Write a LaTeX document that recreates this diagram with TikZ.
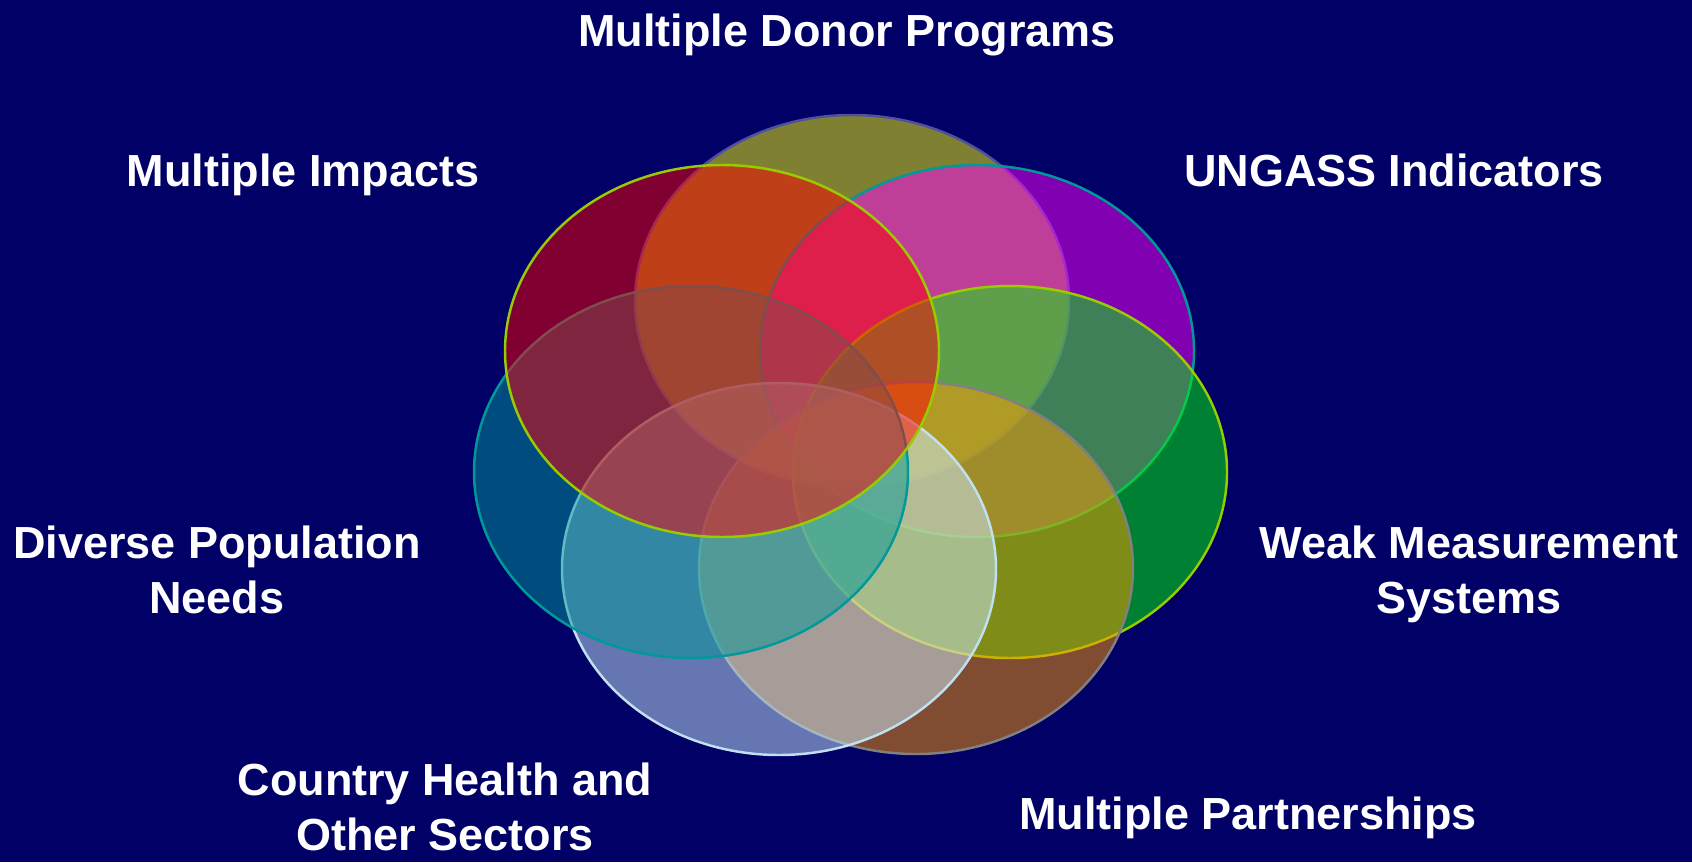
\documentclass[tikz,border=0pt]{standalone}
\usepackage{fontspec}
\setmainfont{Liberation Sans}
\definecolor{navy}{HTML}{000066}
\definecolor{donorfill}{HTML}{FFFF00}
\definecolor{impactfill}{HTML}{FF0000}
\definecolor{ungassfill}{HTML}{FF00FF}
\definecolor{popfill}{HTML}{009999}
\definecolor{weakfill}{HTML}{00FF00}
\definecolor{countryfill}{HTML}{CCECFF}
\definecolor{partnerfill}{HTML}{FF9900}
\definecolor{limeline}{HTML}{99CC00}
\definecolor{tealline}{HTML}{009999}
\definecolor{violetline}{HTML}{5050A0}
\definecolor{greyline}{HTML}{808080}
\definecolor{paleline}{HTML}{C0E0F0}
\tikzset{
  petal/.style={line width=0.7pt, fill opacity=0.5},
  tag/.style={text=white, font=\fontsize{12.8}{15.4}\selectfont\bfseries,
    align=center, inner sep=0pt, anchor=base}
}

\begin{document}
\begin{tikzpicture}
\fill[navy] (0,0) rectangle (16.92,8.62);
\useasboundingbox (0,0) rectangle (16.92,8.62);
% centres of the seven ellipses
\coordinate (donor) at (8.52,5.61);
\coordinate (impact) at (7.22,5.11);
\coordinate (ungass) at (9.77,5.11);
\coordinate (pop) at (6.91,3.90);
\coordinate (weak) at (10.10,3.90);
\coordinate (country) at (7.79,2.93);
\coordinate (partner) at (9.16,2.94);
\draw[petal, draw=violetline, fill=donorfill] (donor) ellipse [x radius=2.17, y radius=1.86];
\draw[petal, draw=tealline, fill=ungassfill] (ungass) ellipse [x radius=2.17, y radius=1.86];
\draw[petal, draw=limeline, fill=weakfill] (weak) ellipse [x radius=2.17, y radius=1.86];
\draw[petal, draw=greyline, fill=partnerfill] (partner) ellipse [x radius=2.17, y radius=1.86];
\draw[petal, draw=paleline, fill=countryfill] (country) ellipse [x radius=2.17, y radius=1.86];
\draw[petal, draw=tealline, fill=popfill] (pop) ellipse [x radius=2.17, y radius=1.86];
\draw[petal, draw=limeline, fill=impactfill] (impact) ellipse [x radius=2.17, y radius=1.86];
% labels
\node[tag] (tDonor) at (8.47,8.16) {Multiple Donor Programs};
\node[tag] (tImpact) at (3.03,6.76) {Multiple Impacts};
\node[tag] (tUngass) at (13.94,6.76) {UNGASS Indicators};
\node[tag] (tPop) at (2.17,2.49) {Diverse Population\\Needs};
\node[tag] (tWeak) at (14.69,2.49) {Weak Measurement\\Systems};
\node[tag] (tCountry) at (4.45,0.12) {Country Health and\\Other Sectors};
\node[tag] (tPartner) at (12.48,0.33) {Multiple Partnerships};
\end{tikzpicture}
\end{document}
